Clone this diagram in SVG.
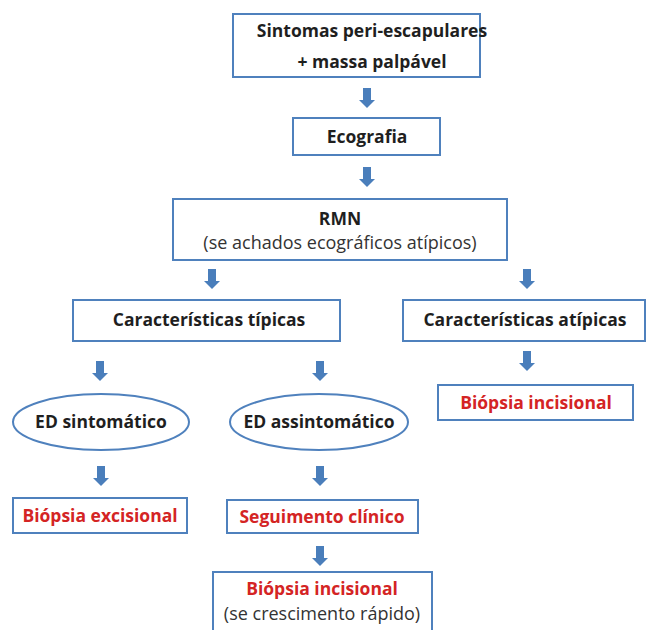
<svg xmlns="http://www.w3.org/2000/svg" width="650" height="630" viewBox="0 0 650 630">
<defs>
<style>
.box{fill:#fff;stroke:#4f81bd;stroke-width:2}
.t{font-family:"Open Sans","Liberation Sans",sans-serif;font-size:17.5px;font-weight:bold;fill:#1f1f1f;text-anchor:middle}
.n{font-family:"Open Sans","Liberation Sans",sans-serif;font-size:18px;fill:#333;text-anchor:middle}
.r{fill:#d42424}
.ar{fill:#4a7ebb}
</style>
<path id="arr" d="M-4,0 H4 V12 H8 L0,20 L-8,12 H-4 Z"/>
</defs>
<rect width="650" height="630" fill="#fff"/>
<g id="connectors" class="ar">
<use href="#arr" x="367" y="88"/>
<use href="#arr" x="367" y="167"/>
<use href="#arr" x="212" y="269"/>
<use href="#arr" x="527" y="269"/>
<use href="#arr" x="100" y="361"/>
<use href="#arr" x="320" y="361"/>
<use href="#arr" x="527" y="351"/>
<use href="#arr" x="101" y="466"/>
<use href="#arr" x="320" y="466"/>
<use href="#arr" x="320" y="546"/>
</g>
<g id="n1"><rect class="box" x="233" y="14" width="247" height="63"/>
<text class="t" x="372" y="37">Sintomas peri-escapulares</text>
<text class="t" x="372" y="68">+ massa palpável</text></g>
<g id="n2"><rect class="box" x="293" y="118" width="147" height="37"/>
<text class="t" x="367" y="143">Ecografia</text></g>
<g id="n3"><rect class="box" x="173" y="199" width="334" height="61"/>
<text class="t" x="340" y="225">RMN</text>
<text class="n" x="340" y="249">(se achados ecográficos atípicos)</text></g>
<g id="n4"><rect class="box" x="73" y="300" width="267" height="41"/>
<text class="t" x="209" y="326">Características típicas</text></g>
<g id="n5"><rect class="box" x="403" y="300" width="242" height="41"/>
<text class="t" x="525" y="326">Características atípicas</text></g>
<g id="n6"><ellipse class="box" cx="101" cy="422" rx="88" ry="28"/>
<text class="t" x="101" y="428">ED sintomático</text></g>
<g id="n7"><ellipse class="box" cx="319" cy="422" rx="89" ry="28"/>
<text class="t" x="319" y="428">ED assintomático</text></g>
<g id="n8"><rect class="box" x="438" y="385" width="195" height="35"/>
<text class="t r" x="536" y="409">Biópsia incisional</text></g>
<g id="n9"><rect class="box" x="13" y="498" width="174" height="35"/>
<text class="t r" x="100" y="522">Biópsia excisional</text></g>
<g id="n10"><rect class="box" x="227" y="500" width="191" height="33"/>
<text class="t r" x="322" y="523">Seguimento clínico</text></g>
<g id="n11"><rect class="box" x="213" y="572" width="219" height="64"/>
<text class="t r" x="322" y="595">Biópsia incisional</text>
<text class="n" x="322" y="620">(se crescimento rápido)</text></g>
</svg>
